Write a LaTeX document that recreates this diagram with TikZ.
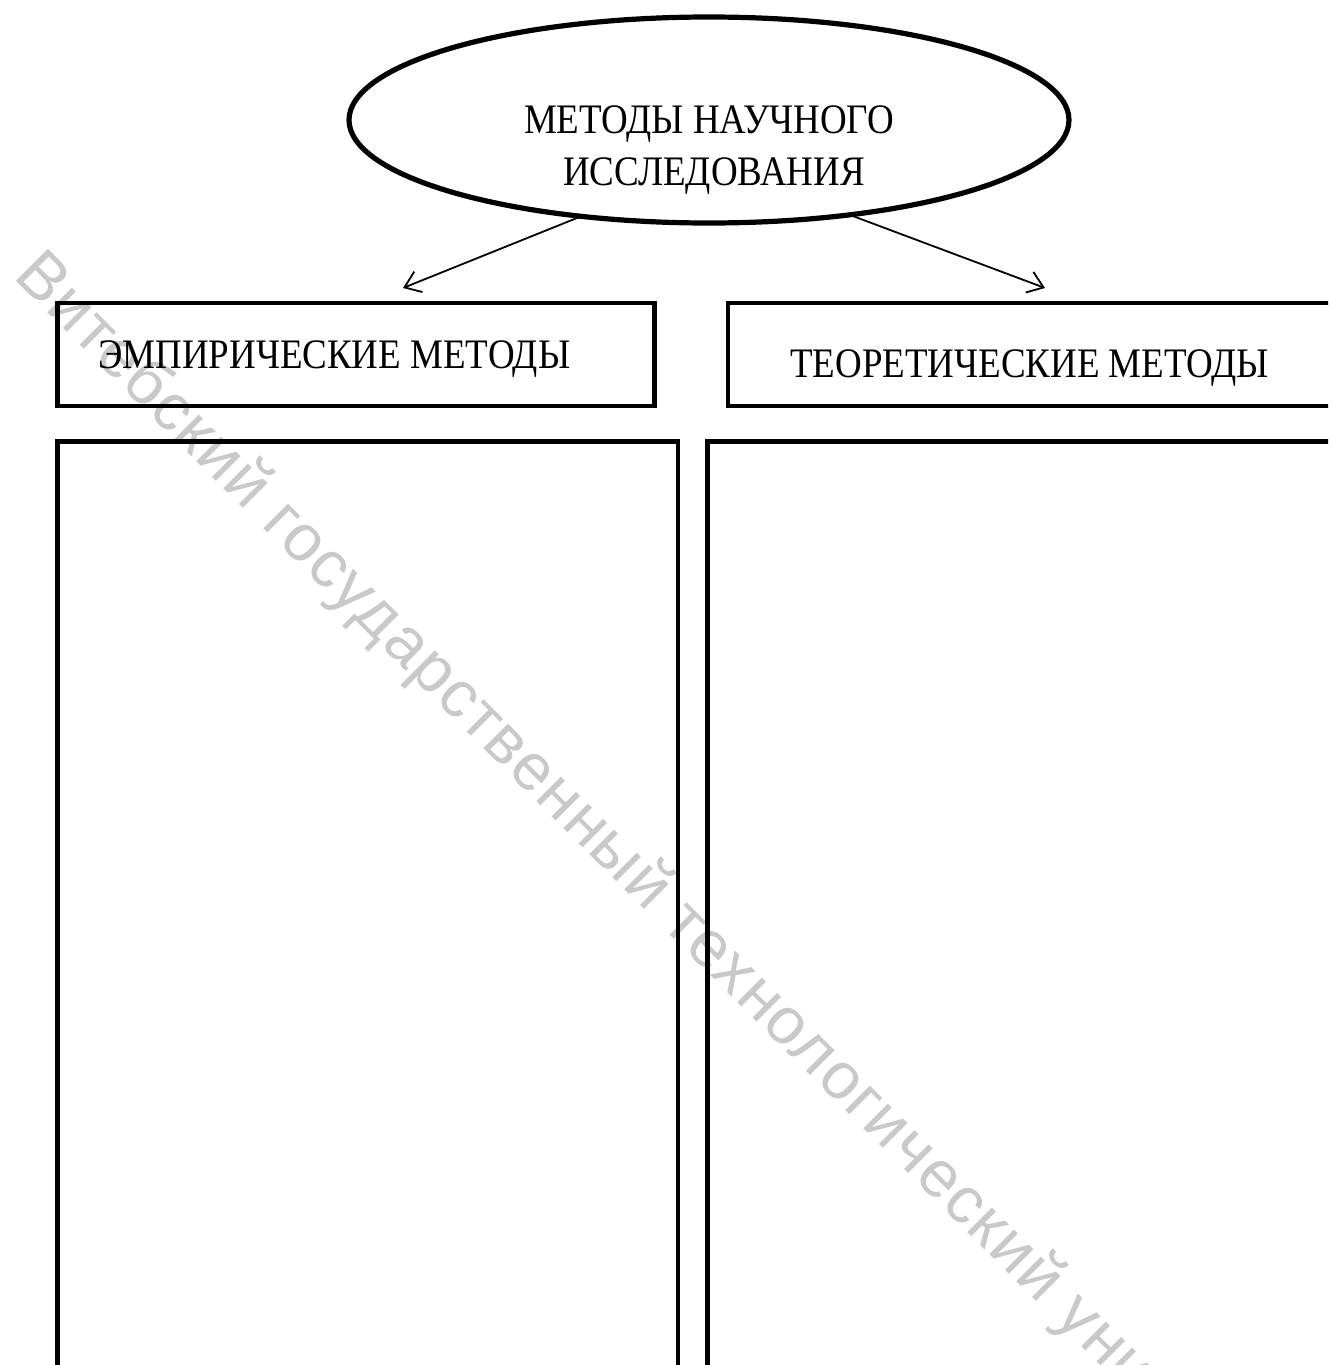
\documentclass[tikz,border=0pt]{standalone}
\usepackage{fontspec}
\setmainfont{Liberation Serif}
\newfontfamily\condfont[FakeStretch=0.88]{Liberation Serif}
\newfontfamily\wmfont[LetterSpace=2.3]{Liberation Sans}
\usetikzlibrary{shapes.geometric,arrows.meta}
\begin{document}
\begin{tikzpicture}[x=1pt,y=-1pt,
  frame/.style={draw=black, line width=4.6pt, inner sep=0pt, outer sep=0pt, rectangle},
  oval/.style={draw=black, line width=5.2pt, ellipse, inner sep=0pt, outer sep=0pt},
  lbl/.style={inner sep=0pt, font=\condfont\fontsize{42}{52}\selectfont},
  arr/.style={line width=1.8pt, -{Straight Barb[length=15pt,width=22pt,line width=1.8pt]}},
  wm/.style={inner sep=0pt, text=black!21, font=\wmfont\fontsize{66}{66}\selectfont}]
\useasboundingbox (0,0) rectangle (1328,1365);
\clip (0,0) rectangle (1328,1365);
% watermark
\node[wm, rotate=-45, anchor=base west] (wmark) at (12,277) {Витебский государственный технологический университет};
% top ellipse
\node[oval, minimum width=720pt, minimum height=206pt] (e) at (709,120) {};
\node[lbl, anchor=base] (t1) at (709,133) {МЕТОДЫ НАУЧНОГО};
\node[lbl, anchor=base] (t2) at (714,185) {ИССЛЕДОВАНИЯ};
% header boxes
\node[frame, minimum width=597pt, minimum height=103pt] (b1) at (356,354.5) {};
\node[frame, minimum width=617pt, minimum height=103pt] (b2) at (1036.5,354.5) {};
\node[lbl, anchor=base west] (l1) at (98,368) {ЭМПИРИЧЕСКИЕ МЕТОДЫ};
\node[lbl, anchor=base west] (l2) at (790,377) {ТЕОРЕТИЧЕСКИЕ МЕТОДЫ};
% big boxes
\node[frame, minimum width=620.5pt, minimum height=958pt] (c1) at (367.75,920.75) {};
\node[frame, minimum width=637.5pt, minimum height=958pt] (c2) at (1026.25,920.75) {};
% arrows
\coordinate (a1) at (403,288);
\coordinate (a2) at (1045,288);
\draw[arr] (e.217.8) -- (a1);
\draw[arr] (e.326.5) -- (a2);
\end{tikzpicture}
\end{document}
